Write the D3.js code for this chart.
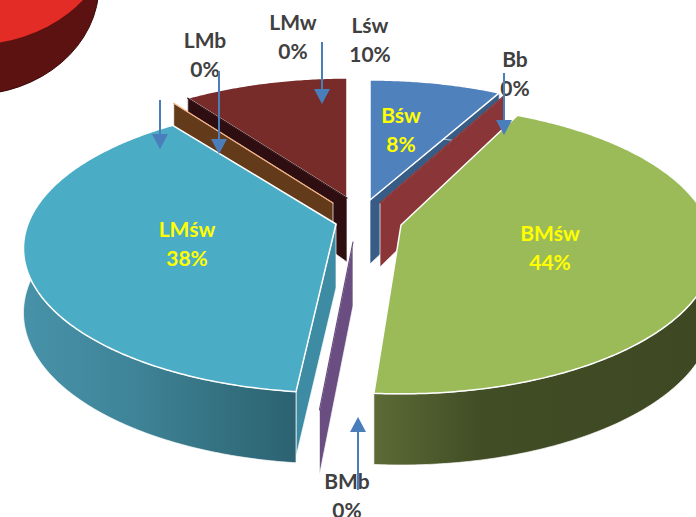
<!DOCTYPE html>
<html>
<head>
<meta charset="utf-8">
<script src="https://cdn.jsdelivr.net/npm/d3@7"></script>
<style>
  html, body { margin: 0; padding: 0; background: #fff; }
  svg { display: block; }
</style>
</head>
<body>
<div id="chart"></div>
<script>
// Data
const categories = ['Bśw', 'Bb', 'BMśw', 'BMb', 'LMśw', 'LMb', 'LMw', 'Lśw'];
const values = [8, 0, 44, 0, 38, 0, 0, 10];

// Slice styling, same order as categories
const topColors = ['#4f81bd', '#8a3638', '#9bbb59', '#6a4e82', '#4bacc6', '#f4b183', '#2e0e10', '#772c2a'];
const edgeColors = ['#375d87', '#8a3638', '#3f4a24', '#6a4e82', '#3d8ca3', '#633a1a', '#2e0e10', '#2e0e10'];
// Explosion of each slice from the pie centre (px), and its small twist (deg)
const explode = [[11.5, -20], [21.5, -17], [42.5, 5], [-5.5, 22], [-22.5, 4], [-25.5, -17], [-11.5, -22], [-11.5, -22]];
const twist = [0, -1, -3, -2, -1, 0, 0, 0];

// Gradients of the curved outer walls
const wallStops = {
  'BMśw': [[0, '#5c6b36'], [0.33, '#414d25'], [1, '#3e4923']],
  'LMśw': [[0, '#4792a9'], [0.4, '#3f8498'], [0.75, '#33707f'], [1, '#2c6272']]
};

// Label placement (baseline of the name, the percent line sits under it)
const labelPos = {
  'Bśw': [401, 123], 'Bb': [515, 67], 'BMśw': [550, 241], 'BMb': [347, 489],
  'LMśw': [187, 237], 'LMb': [205, 48], 'LMw': [293, 30], 'Lśw': [370, 33]
};
const yellowLabels = ['Bśw', 'BMśw', 'LMśw'];
const LINE_GAP = 28.5;

// Callout arrows: x, tail y, tip y
const arrows = [[160, 100, 149], [219, 71, 154], [322, 42, 104], [504, 73, 135], [358, 490, 417]];

const W = 696, H = 517;
const CX = 358.5, CY = 220;
const RX = 308, RY = 140.3, PERSP = 0.169, DEPTH = 63;

const svg = d3.select('#chart').append('svg')
  .attr('width', W).attr('height', H)
  .attr('viewBox', `0 0 ${W} ${H}`);
const defs = svg.append('defs');

// Piece of another pie, cut off by the slide corner
svg.append('ellipse').attr('cx', -30).attr('cy', -15).attr('rx', 129).attr('ry', 110)
  .attr('fill', '#5c1210').attr('stroke', '#3a0a08');
svg.append('ellipse').attr('cx', -30).attr('cy', -65).attr('rx', 140).attr('ry', 110)
  .attr('fill', '#e42c26');

// Perspective projection of a point on the unit disc
function project(angle) {
  const u = Math.sin(angle), v = -Math.cos(angle);
  const w = 1 / (1 - PERSP * v);
  return [RX * u * w, RY * v * w];
}
const depthAt = angle => DEPTH * (1 - 0.13 * Math.cos(angle));

const pie = d3.pie().sort(null).value(d => d.value);
const line = d3.line();
const rad = d => d * Math.PI / 180;

const slices = pie(categories.map((name, i) => ({ name, value: values[i], i })))
  .map(s => {
    const i = s.data.i;
    const start = s.startAngle + rad(twist[i]);
    const end = s.endAngle + rad(twist[i]);
    return { ...s, start, end, mid: (s.startAngle + s.endAngle) / 2,
             ox: CX + explode[i][0], oy: CY + explode[i][1] };
  })
  // painter's order, back to front; slices on the same angle keep the later category behind
  .sort((a, b) => d3.descending(Math.cos(a.mid), Math.cos(b.mid)) || d3.descending(a.data.i, b.data.i));

const rimPoint = (s, a) => {
  const p = project(a);
  return [s.ox + p[0], s.oy + p[1]];
};
const arcAngles = s => {
  const n = Math.max(1, Math.ceil((s.end - s.start) / 0.01));
  return d3.range(n + 1).map(k => s.start + (s.end - s.start) * k / n);
};

const g = svg.append('g');
slices.forEach(s => {
  const name = s.data.name, i = s.data.i;
  const open = s.end > s.start;

  // radial walls, only those turned to the viewer
  const walls = [];
  if (Math.sin(s.start) < 0) walls.push(s.start);
  if (Math.sin(s.end) > 0) walls.push(s.end);
  walls.forEach(a => {
    const rim = rimPoint(s, a);
    g.append('path')
      .attr('d', line([[s.ox, s.oy], rim, [rim[0], rim[1] + depthAt(a) - 6], [s.ox, s.oy + DEPTH + 1]]) + 'Z')
      .attr('fill', edgeColors[i])
      .attr('stroke', '#fff').attr('stroke-width', 0.7);
  });

  // curved outer wall
  if (open) {
    const angles = arcAngles(s);
    const upper = angles.map(a => rimPoint(s, a));
    const lower = angles.map(a => {
      const p = rimPoint(s, a);
      return [p[0], p[1] + depthAt(a)];
    }).reverse();
    let fill = edgeColors[i];
    if (wallStops[name]) {
      const front = angles.filter(a => Math.cos(a) < 0.2).map(a => rimPoint(s, a)[0]);
      const id = 'wall' + i;
      const grad = defs.append('linearGradient').attr('id', id)
        .attr('gradientUnits', 'userSpaceOnUse')
        .attr('x1', d3.min(front)).attr('x2', Math.min(d3.max(front), W));
      wallStops[name].forEach(st => grad.append('stop').attr('offset', st[0]).attr('stop-color', st[1]));
      fill = `url(#${id})`;
    }
    g.append('path').attr('d', line(upper.concat(lower)) + 'Z')
      .attr('fill', fill).attr('stroke', '#fff').attr('stroke-width', 0.7);
  }

  // top face
  const top = [[s.ox, s.oy]].concat(arcAngles(s).map(a => rimPoint(s, a)));
  g.append('path').attr('d', line(top) + 'Z')
    .attr('fill', topColors[i])
    .attr('stroke', open ? '#fff' : topColors[i])
    .attr('stroke-width', open ? 1.5 : 1.2)
    .attr('stroke-linejoin', 'round');
});

// Labels
const total = d3.sum(values);
const pct = d3.format('.0%');
categories.forEach((name, i) => {
  const [x, y] = labelPos[name];
  const t = svg.append('text')
    .attr('text-anchor', 'middle')
    .attr('font-family', 'Lato, "Open Sans", sans-serif')
    .attr('font-size', 21)
    .attr('font-weight', 700)
    .attr('fill', yellowLabels.includes(name) ? '#ffff00' : '#404040');
  t.append('tspan').attr('x', x).attr('y', y).text(name);
  t.append('tspan').attr('x', x).attr('y', y + LINE_GAP).text(pct(values[i] / total));
});

// Callout arrows
const ARROW = '#4a7ebb';
arrows.forEach(([x, y1, y2]) => {
  const dir = y2 > y1 ? 1 : -1;
  svg.append('line')
    .attr('x1', x).attr('x2', x).attr('y1', y1).attr('y2', y2 - dir * 14)
    .attr('stroke', ARROW).attr('stroke-width', 2);
  svg.append('path')
    .attr('d', line([[x, y2], [x - 8, y2 - dir * 15], [x + 8, y2 - dir * 15]]) + 'Z')
    .attr('fill', ARROW);
});
</script>
</body>
</html>
